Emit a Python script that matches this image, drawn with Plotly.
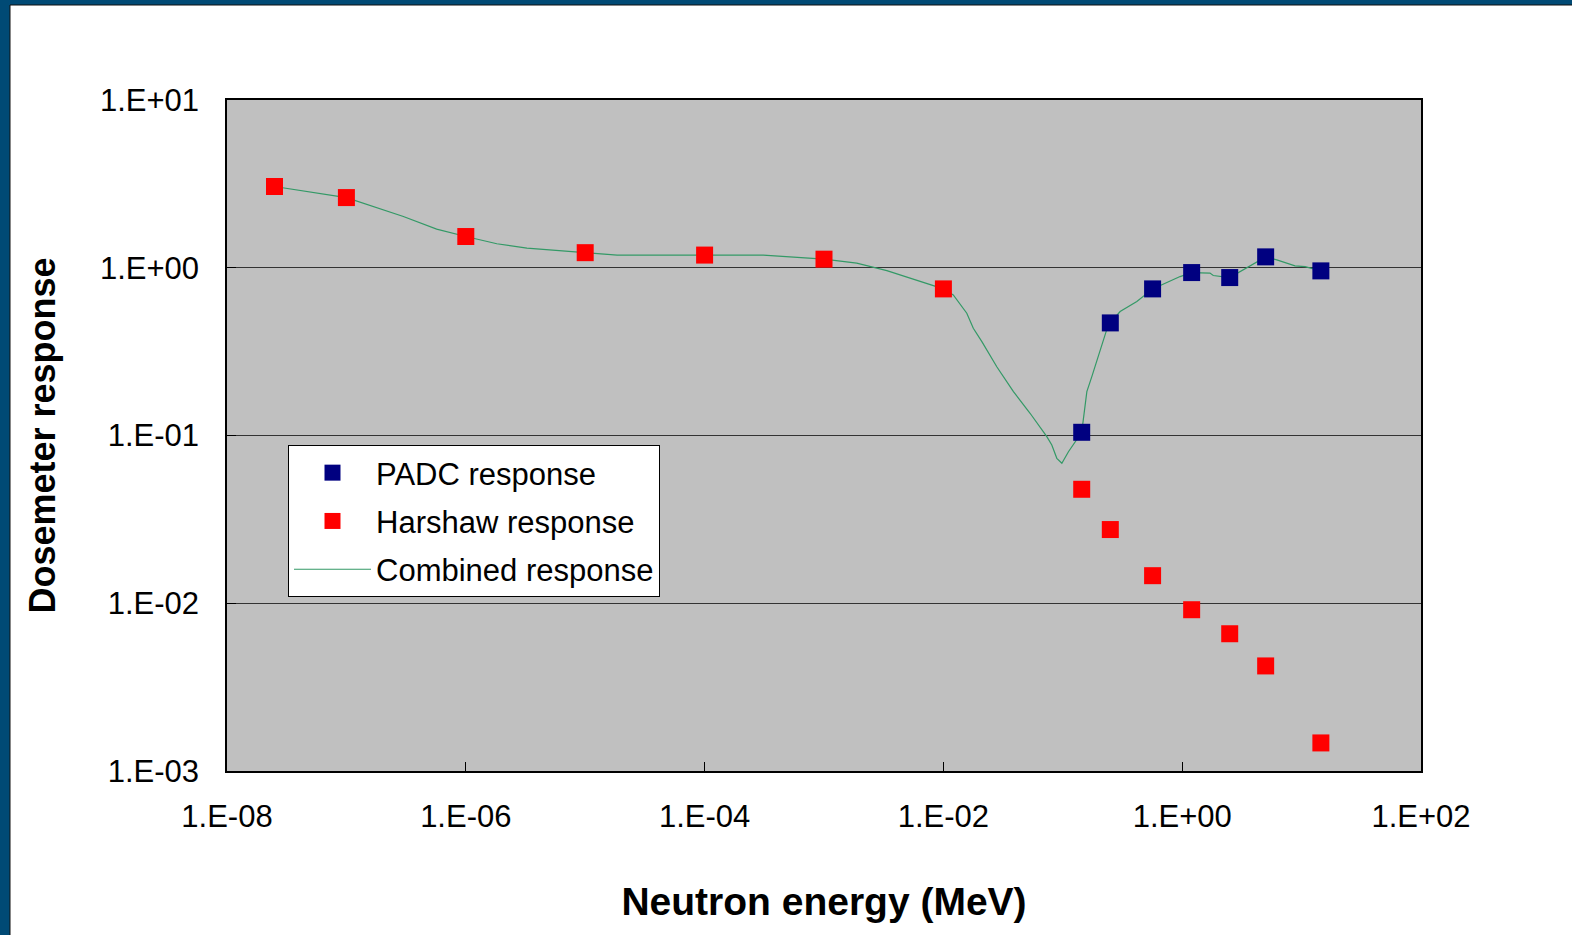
import plotly.graph_objects as go

# ---- data ----
harshaw_energy = [2.5e-8, 1e-7, 1e-6, 1e-5, 1e-4, 1e-3, 1e-2, 0.144, 0.25, 0.565, 1.2, 2.5, 5.0, 14.5]
harshaw_response = [3.05, 2.62, 1.535, 1.23, 1.19, 1.125, 0.748, 0.0478, 0.0275, 0.0146, 0.00915, 0.00658, 0.00423, 0.00147]

padc_energy = [0.144, 0.25, 0.565, 1.2, 2.5, 5.0, 14.5]
padc_response = [0.1045, 0.469, 0.748, 0.936, 0.874, 1.161, 0.958]

combined_energy = [2.5e-8, 1e-7, 3.0e-7, 5.7e-7, 1e-6, 1.82e-6, 3.25e-6, 1e-5, 1.85e-5, 3.5e-5,
                   1e-4, 3.1e-4, 1e-3, 1.88e-3, 3.36e-3, 1e-2, 1.21e-2, 1.57e-2, 1.78e-2, 2.1e-2,
                   2.8e-2, 3.86e-2, 5.32e-2, 7.35e-2, 8.09e-2, 8.91e-2, 9.82e-2, 0.1115, 0.144, 0.159,
                   0.175, 0.233, 0.25, 0.302, 0.417, 0.565, 0.96, 1.2, 1.71, 1.82,
                   2.5, 4.21, 5.0, 6.2, 8.81, 10.7, 14.5]
combined_response = [3.05, 2.62, 2.02, 1.70, 1.535, 1.39, 1.31, 1.23, 1.19, 1.19,
                     1.19, 1.19, 1.125, 1.065, 0.962, 0.748, 0.689, 0.536, 0.436, 0.363,
                     0.257, 0.1825, 0.1357, 0.0984, 0.0878, 0.0731, 0.0683, 0.080, 0.1045, 0.1825,
                     0.2244, 0.426, 0.469, 0.548, 0.629, 0.748, 0.886, 0.936, 0.929, 0.899,
                     0.874, 1.089, 1.161, 1.115, 1.026, 1.016, 0.958]

x_tickvals = [1e-8, 1e-6, 1e-4, 1e-2, 1e0, 1e2]
x_ticktext = ["1.E-08", "1.E-06", "1.E-04", "1.E-02", "1.E+00", "1.E+02"]
y_tickvals = [1e-3, 1e-2, 1e-1, 1e0, 1e1]
y_ticktext = ["1.E-03", "1.E-02", "1.E-01", "1.E+00", "1.E+01"]

FONT = "Liberation Sans, Arial, sans-serif"

fig = go.Figure()
fig.add_trace(go.Scatter(
    x=combined_energy, y=combined_response, mode="lines", name="Combined response",
    line=dict(color="#339966", width=1.2), legendgroup="c", legendrank=3))
fig.add_trace(go.Scatter(
    x=padc_energy, y=padc_response, mode="markers", name="PADC response",
    marker=dict(symbol="square", size=17, color="#000080", line=dict(width=0)),
    legendgroup="a", legendrank=1))
fig.add_trace(go.Scatter(
    x=harshaw_energy, y=harshaw_response, mode="markers", name="Harshaw response",
    marker=dict(symbol="square", size=17, color="#ff0000", line=dict(width=0)),
    legendgroup="b", legendrank=2))

L, R, T, B = 227, 151, 100, 164
W, H = 1572, 935

fig.update_layout(
    width=W, height=H,
    margin=dict(l=L, r=R, t=T, b=B),
    paper_bgcolor="white",
    plot_bgcolor="#c0c0c0",
    font=dict(family=FONT, size=31, color="black"),
    showlegend=True,
    legend=dict(
        x=(288 - L) / (W - L - R), y=(H - B - 445) / (H - T - B),
        xanchor="left", yanchor="top",
        bgcolor="white", bordercolor="black", borderwidth=1,
        font=dict(family=FONT, size=31, color="black"),
        itemwidth=77, traceorder="grouped", tracegroupgap=5,
    ),
    xaxis=dict(
        type="log", range=[-8, 2],
        tickvals=x_tickvals, ticktext=x_ticktext,
        ticks="inside", ticklen=9, tickcolor="black", tickwidth=1,
        showgrid=False, zeroline=False,
        showline=True, linecolor="black", linewidth=1.5, mirror=True,
        ticklabelstandoff=17,
        title=dict(text="<b>Neutron energy (MeV)</b>", font=dict(family=FONT, size=39), standoff=55),
    ),
    yaxis=dict(
        type="log", range=[-3, 1],
        tickvals=y_tickvals, ticktext=y_ticktext,
        ticks="inside", ticklen=9, tickcolor="black", tickwidth=1,
        showgrid=True, gridcolor="#333333", gridwidth=1,
        zeroline=False,
        showline=True, linecolor="black", linewidth=1.5, mirror=True,
        ticklabelstandoff=20,
        title=dict(text="<b>Dosemeter response</b>", font=dict(family=FONT, size=36), standoff=33),
    ),
    shapes=[
        # slide background frame (left strip and top strip)
        dict(type="rect", xref="paper", yref="paper", xsizemode="pixel", ysizemode="pixel",
             xanchor=0, yanchor=0, x0=-L, x1=-L + 10, y0=-B, y1=H - B,
             fillcolor="#004a75", line=dict(width=0), layer="above"),
        dict(type="rect", xref="paper", yref="paper", xsizemode="pixel", ysizemode="pixel",
             xanchor=0, yanchor=1, x0=-L, x1=W - L, y0=T - 5, y1=T,
             fillcolor="#004a75", line=dict(width=0), layer="above"),
        dict(type="line", xref="paper", yref="paper", xsizemode="pixel", ysizemode="pixel",
             xanchor=0, yanchor=0, x0=-L + 10, x1=-L + 10, y0=-B, y1=H - B - 5,
             line=dict(color="#111111", width=1), layer="above"),
        dict(type="line", xref="paper", yref="paper", xsizemode="pixel", ysizemode="pixel",
             xanchor=0, yanchor=1, x0=-L + 10, x1=W - L, y0=T - 5, y1=T - 5,
             line=dict(color="#111111", width=1), layer="above"),
    ],
)

fig.write_html("out.html")
